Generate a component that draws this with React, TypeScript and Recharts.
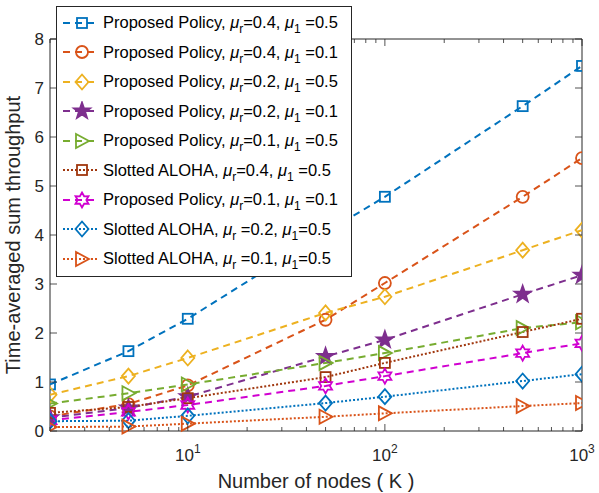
import React from "react";
import { ComposedChart, Line, XAxis, YAxis, Legend, ReferenceArea } from "recharts";

// number of nodes K
const K = [2, 5, 10, 50, 100, 500, 1000];

// time-averaged sum throughput per curve
const ppR04L05 = [0.95, 1.63, 2.29, 4.05, 4.78, 6.63, 7.45];
const ppR04L01 = [0.3, 0.55, 0.93, 2.27, 3.02, 4.78, 5.57];
const ppR02L05 = [0.74, 1.12, 1.49, 2.41, 2.74, 3.69, 4.1];
const ppR02L01 = [0.27, 0.47, 0.7, 1.52, 1.86, 2.79, 3.18];
const ppR01L05 = [0.56, 0.77, 0.95, 1.39, 1.59, 2.1, 2.22];
const saR04L05 = [0.37, 0.49, 0.67, 1.1, 1.39, 2.02, 2.29];
const ppR01L01 = [0.22, 0.39, 0.53, 0.92, 1.12, 1.59, 1.79];
const saR02L05 = [0.2, 0.21, 0.31, 0.57, 0.7, 1.02, 1.16];
const saR01L05 = [0.08, 0.09, 0.15, 0.29, 0.36, 0.51, 0.57];

const xTicks = [2, 3, 4, 5, 6, 7, 8, 9, 10, 20, 30, 40, 50, 60, 70, 80, 90, 100, 200, 300, 400, 500, 600, 700, 800, 900, 1000];
const yTicks = [0, 1, 2, 3, 4, 5, 6, 7, 8];

const W = 599;
const H = 493;
const M = { top: 39, right: 17, bottom: 61, left: 49 };
const PW = W - M.left - M.right - 1;
const PH = H - M.top - M.bottom - 1;
const FONT = '"Liberation Sans", Arial, Helvetica, sans-serif';
const INK = "#262626";

type Shape = "square" | "circle" | "diamond" | "star" | "triangle" | "hexagram";

const SERIES: { key: string; label: string; values: number[]; color: string; dash: string; shape: Shape; filled?: boolean }[] = [
  { key: "a", label: "Proposed Policy, μ_r=0.4, μ_1 =0.5", values: ppR04L05, color: "#0072BD", dash: "7 5", shape: "square" },
  { key: "b", label: "Proposed Policy, μ_r=0.4, μ_1 =0.1", values: ppR04L01, color: "#D95319", dash: "7 5", shape: "circle" },
  { key: "c", label: "Proposed Policy, μ_r=0.2, μ_1 =0.5", values: ppR02L05, color: "#EDB120", dash: "7 5", shape: "diamond" },
  { key: "d", label: "Proposed Policy, μ_r=0.2, μ_1 =0.1", values: ppR02L01, color: "#7E2F8E", dash: "7 5", shape: "star", filled: true },
  { key: "e", label: "Proposed Policy, μ_r=0.1, μ_1 =0.5", values: ppR01L05, color: "#77AC30", dash: "7 5", shape: "triangle" },
  { key: "f", label: "Slotted ALOHA, μ_r=0.4, μ_1 =0.5", values: saR04L05, color: "#A0370E", dash: "2 2", shape: "square" },
  { key: "g", label: "Proposed Policy, μ_r=0.1, μ_1 =0.1", values: ppR01L01, color: "#D000D0", dash: "7 5", shape: "hexagram" },
  { key: "h", label: "Slotted ALOHA, μ_r =0.2, μ_1=0.5", values: saR02L05, color: "#0072BD", dash: "2 2", shape: "diamond" },
  { key: "i", label: "Slotted ALOHA, μ_r =0.1, μ_1=0.5", values: saR01L05, color: "#D95319", dash: "2 2", shape: "triangle" },
];

const data = K.map((k, i) => {
  const row: Record<string, number> = { k };
  SERIES.forEach((s) => (row[s.key] = s.values[i]));
  return row;
});

function starPoints(cx: number, cy: number, n: number, ro: number, ri: number) {
  const pts: string[] = [];
  for (let i = 0; i < n * 2; i++) {
    const r = i % 2 === 0 ? ro : ri;
    const a = -Math.PI / 2 + (i * Math.PI) / n;
    pts.push(`${cx + r * Math.cos(a)},${cy + r * Math.sin(a)}`);
  }
  return pts.join(" ");
}

function Marker({ shape, cx, cy, color, filled }: { shape: Shape; cx: number; cy: number; color: string; filled?: boolean }) {
  const common = { stroke: color, strokeWidth: 1.8, fill: filled ? color : "none" };
  switch (shape) {
    case "square":
      return <rect x={cx - 5} y={cy - 5} width={10} height={10} {...common} />;
    case "circle":
      return <circle cx={cx} cy={cy} r={6} {...common} />;
    case "diamond":
      return <polygon points={`${cx},${cy - 7.5} ${cx + 6.5},${cy} ${cx},${cy + 7.5} ${cx - 6.5},${cy}`} {...common} />;
    case "star":
      return <polygon points={starPoints(cx, cy, 5, 8.5, 3.4)} {...common} />;
    case "triangle":
      return <polygon points={`${cx + 7},${cy} ${cx - 6},${cy - 7} ${cx - 6},${cy + 7}`} {...common} />;
    case "hexagram":
      return <polygon points={starPoints(cx, cy, 6, 7.5, 4.3)} {...common} />;
  }
}

function XTick({ x, y, payload }: any) {
  const v = payload.value as number;
  const exp = Math.log10(v);
  const major = Math.abs(exp - Math.round(exp)) < 1e-9;
  const len = major ? 7 : 4;
  return (
    <g>
      <line x1={x} y1={y} x2={x} y2={y - len} stroke={INK} strokeWidth={0.8} />
      <line x1={x} y1={y - PH} x2={x} y2={y - PH + len} stroke={INK} strokeWidth={0.8} />
      {major && (
        <text x={x} y={y + 30} textAnchor="middle" fontSize={17} fill={INK} fontFamily={FONT}>
          10
          <tspan fontSize={12} dy={-8}>{Math.round(exp)}</tspan>
        </text>
      )}
    </g>
  );
}

function YTick({ x, y, payload }: any) {
  return (
    <g>
      <line x1={x} y1={y} x2={x + 7} y2={y} stroke={INK} strokeWidth={0.8} />
      <line x1={x + PW} y1={y} x2={x + PW - 7} y2={y} stroke={INK} strokeWidth={0.8} />
      <text x={x - 6} y={y + 6} textAnchor="end" fontSize={17} fill={INK} fontFamily={FONT}>
        {payload.value}
      </text>
    </g>
  );
}

function RichLabel({ text }: { text: string }) {
  const parts = text.split(/(μ_[a-z0-9])/);
  return (
    <span>
      {parts.map((p, i) =>
        p.startsWith("μ_") ? (
          <span key={i}>
            <span style={{ fontStyle: "italic" }}>μ</span>
            <span style={{ fontSize: 12, position: "relative", top: 5 }}>{p.slice(2)}</span>
          </span>
        ) : (
          <span key={i}>{p}</span>
        )
      )}
    </span>
  );
}

function LegendBox() {
  return (
    <div
      style={{
        background: "#fff",
        border: `1px solid ${INK}`,
        paddingTop: 1,
        fontFamily: FONT,
        fontSize: 16.5,
        color: "#000",
        boxSizing: "border-box",
        width: 296,
        height: 271,
      }}
    >
      {SERIES.map((s) => (
        <div key={s.key} style={{ display: "flex", alignItems: "center", height: 29.5, whiteSpace: "nowrap" }}>
          <svg width={46} height={20} style={{ flex: "none" }}>
            <line x1={6} y1={10} x2={41} y2={10} stroke={s.color} strokeWidth={2} strokeDasharray={s.dash} />
            <Marker shape={s.shape} cx={25} cy={10} color={s.color} filled={s.filled} />
          </svg>
          <RichLabel text={s.label} />
        </div>
      ))}
    </div>
  );
}

export default function App() {
  return (
    <div style={{ position: "absolute", left: 0, top: 0, width: W, height: H, background: "#fff" }}>
      <ComposedChart width={W} height={H} data={data} margin={M}>
        <ReferenceArea x1={2} x2={1000} y1={0} y2={8} fill="none" stroke={INK} strokeWidth={1} />
        <XAxis
          dataKey="k"
          type="number"
          scale="log"
          domain={[2, 1000]}
          ticks={xTicks}
          interval={0}
          allowDataOverflow
          height={1}
          tickSize={0}
          tickMargin={0}
          axisLine={false}
          tick={<XTick />}
          label={{
            content: ({ viewBox }: any) => (
              <text x={viewBox.x + viewBox.width / 2} y={viewBox.y + 57} textAnchor="middle" fontSize={20} fill={INK} fontFamily={FONT}>
                Number of nodes ( K )
              </text>
            ),
          }}
        />
        <YAxis
          type="number"
          domain={[0, 8]}
          ticks={yTicks}
          interval={0}
          width={1}
          tickSize={0}
          tickMargin={0}
          axisLine={false}
          tick={<YTick />}
          label={{
            content: ({ viewBox }: any) => {
              const cx = viewBox.x + viewBox.width - 30;
              const cy = viewBox.y + viewBox.height / 2;
              return (
                <text x={cx} y={cy} transform={`rotate(-90 ${cx} ${cy})`} textAnchor="middle" fontSize={20} fill={INK} fontFamily={FONT}>
                  Time-averaged sum throughput
                </text>
              );
            },
          }}
        />
        {SERIES.map((s) => (
          <Line
            key={s.key}
            dataKey={s.key}
            type="linear"
            stroke={s.color}
            strokeWidth={2}
            strokeDasharray={s.dash}
            isAnimationActive={false}
            activeDot={false}
            dot={(p: any) => (
              <g key={`${s.key}-${p.index}`}>
                <Marker shape={s.shape} cx={p.cx} cy={p.cy} color={s.color} filled={s.filled} />
              </g>
            )}
          />
        ))}
        <Legend
          layout="vertical"
          align="center"
          verticalAlign="middle"
          wrapperStyle={{ left: 56, top: 6, width: 296, height: 271 }}
          content={() => <LegendBox />}
        />
      </ComposedChart>
    </div>
  );
}
